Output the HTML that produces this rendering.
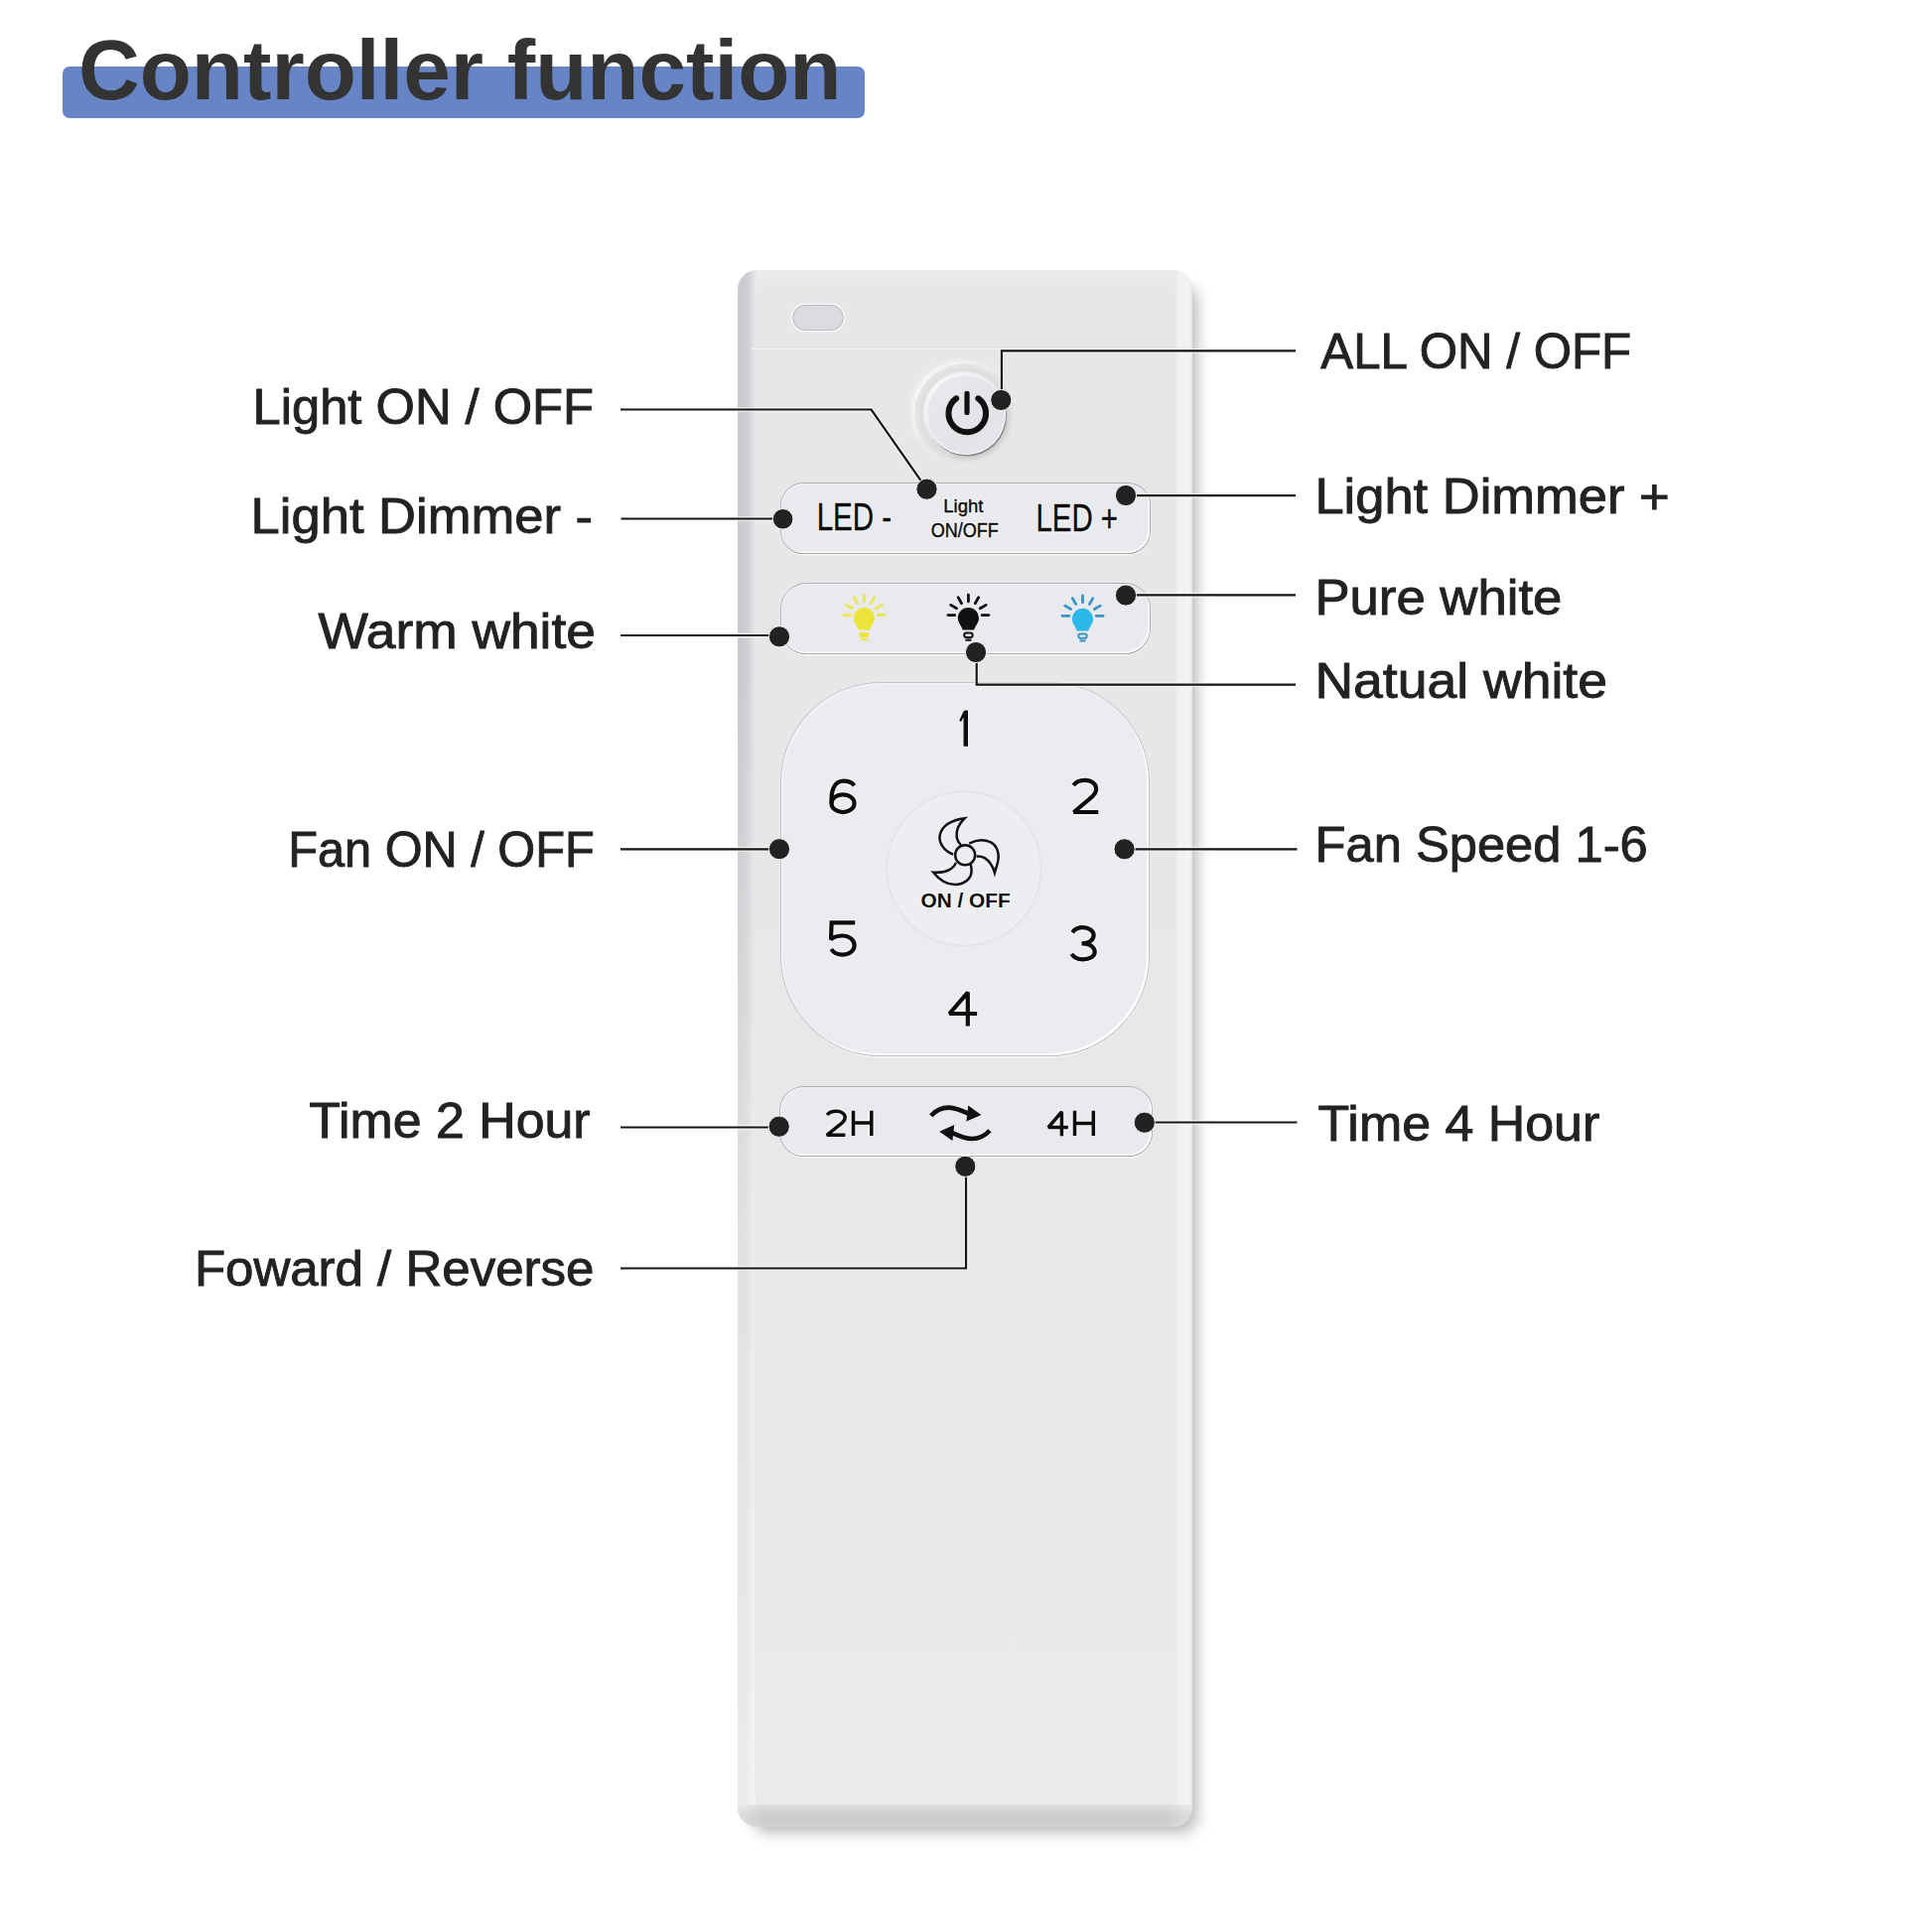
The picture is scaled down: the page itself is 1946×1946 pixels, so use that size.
<!DOCTYPE html>
<html><head><meta charset="utf-8">
<style>
html,body{margin:0;padding:0;background:#fff;}
body{width:1946px;height:1946px;position:relative;overflow:hidden;font-family:"Liberation Sans",sans-serif;}
.abs{position:absolute;}
#body{left:743px;top:272px;width:458px;height:1568px;border-radius:20px;background:#e9e8eb;overflow:hidden;box-shadow:10px 11px 16px -6px rgba(0,0,0,0.3);}
#lstrip{left:0;top:0;width:18px;height:100%;background:linear-gradient(180deg,rgba(255,255,255,0) 0%,rgba(255,255,255,0) 25%,rgba(255,255,255,0.4) 60%,rgba(255,255,255,0.62) 100%),linear-gradient(90deg,#c9c8cc 0,#cdccd0 45%,#d6d5d9 70%,#e0dfe2 88%,#e7e6e9 100%);}
#rstrip{right:0;top:0;width:17px;height:100%;background:linear-gradient(90deg,#e9e9eb 0,#f1f1f2 20%,#f3f3f4 85%,#e2e2e4 100%);}
#bstrip{left:0;bottom:0;width:100%;height:22px;background:linear-gradient(90deg,rgba(255,255,255,0.35) 0,rgba(255,255,255,0) 6%,rgba(255,255,255,0) 94%,rgba(255,255,255,0.35) 100%),linear-gradient(180deg,#e0dddf 0,#d2cfd0 35%,#cdcacb 75%,#d5d2d3 100%);}
#tstrip{left:0;top:0;width:100%;height:15px;background:linear-gradient(180deg,#ececee,#e8e8ea);}
#face{left:17px;top:15px;right:17px;bottom:22px;border-radius:12px;background:linear-gradient(180deg,#e7e6e9 0%,#e7e7ea 40%,#eaeaec 100%);}
#seam{left:14px;top:77px;width:428px;height:3px;background:linear-gradient(180deg,#dddce0,#f4f4f5);}
#led{left:55px;top:35px;width:52px;height:26px;border-radius:13px;background:#dcdce0;border:1.5px solid #bdbdc0;box-sizing:border-box;box-shadow:0 0 0 1.5px #f7f7f8;}
.bar{position:absolute;background:#e9eaed;box-sizing:border-box;box-shadow:inset -1.5px -1.5px 0 rgba(255,255,255,0.85), inset 1px 1px 0 rgba(255,255,255,0.4), 0 0 0 0.9px #adadaf, 0.3px 1.1px 0 #8d8d8f, 0.5px 2.4px 0.6px #f8f8f9, -1px -1px 1px rgba(255,255,255,0.6);}
#pad{left:787px;top:688px;width:370px;height:375px;border-radius:100px;background:#ebecef;box-sizing:border-box;box-shadow:inset -2px -2px 0 rgba(255,255,255,0.9), inset 1.5px 1.5px 0 rgba(255,255,255,0.45), 0 0 0 1px #c3c3c5, 0.3px 1px 0 #a3a3a5, 0.5px 2.4px 0.6px #f6f6f7;}
#center{left:894px;top:798px;width:154px;height:154px;border-radius:50%;background:#edeef1;box-shadow:0 0 0 1px rgba(0,0,0,0.035), 0 0 4px rgba(0,0,0,0.04);}
#pwrhalo{left:921px;top:366px;width:102px;height:102px;border-radius:50%;background:radial-gradient(circle at 50% 50%,rgba(0,0,0,0) 38px,rgba(0,0,0,0.0) 40px,rgba(0,0,0,0.045) 44px,rgba(0,0,0,0) 51px);box-shadow:-4px -3px 6px -2px rgba(255,255,255,0.9);}
#pwr{left:933px;top:377px;width:80px;height:81px;border-radius:50%;background:linear-gradient(135deg,#e9eaee,#e3e4e8 60%,#e6e6ea);box-sizing:border-box;border:1.2px solid #f6f6f7;box-shadow:1px 1.5px 0 #8a8a8d, 2px 3px 5px rgba(0,0,0,0.12), -2px -2px 3px rgba(255,255,255,0.8);}
svg{position:absolute;left:0;top:0;}
</style></head>
<body>
<div class="abs" style="left:63px;top:67px;width:808px;height:51.5px;border-radius:7px;background:#6785c5;"></div>

<div id="body" class="abs">
  <div id="tstrip" class="abs"></div>
  <div id="lstrip" class="abs"></div>
  <div id="rstrip" class="abs"></div>
  <div id="bstrip" class="abs"></div>
  <div id="face" class="abs"></div>
  <div id="seam" class="abs"></div>
  <div id="led" class="abs"></div>
</div>
<div id="pwrhalo" class="abs"></div>
<div id="pwr" class="abs"></div>
<div class="bar" style="left:787px;top:487px;width:371px;height:70px;border-radius:22px;"></div>
<div class="bar" style="left:786.5px;top:587.5px;width:371.5px;height:70px;border-radius:25px;"></div>
<div id="pad" class="abs"></div>
<div id="center" class="abs"></div>
<div class="bar" style="left:785.5px;top:1094.5px;width:374px;height:69.5px;border-radius:23px;"></div>

<svg width="1946" height="1946" viewBox="0 0 1946 1946">
<!-- title -->
<text x="79" y="100" font-family="Liberation Sans" font-weight="bold" font-size="86" fill="#333333" textLength="768.5" lengthAdjust="spacingAndGlyphs">Controller function</text>

<!-- labels -->
<g font-family="Liberation Sans" font-size="50" fill="#222222" stroke="#222222" stroke-width="0.9">
<text x="598" y="427" text-anchor="end" textLength="343.4" lengthAdjust="spacingAndGlyphs">Light ON / OFF</text>
<text x="597" y="536.7" text-anchor="end" textLength="344.4" lengthAdjust="spacingAndGlyphs">Light Dimmer -</text>
<text x="599.9" y="653" text-anchor="end" textLength="279.4" lengthAdjust="spacingAndGlyphs">Warm white</text>
<text x="598.7" y="873.3" text-anchor="end" textLength="308.4" lengthAdjust="spacingAndGlyphs">Fan ON / OFF</text>
<text x="594.6" y="1146" text-anchor="end" textLength="283.3" lengthAdjust="spacingAndGlyphs">Time 2 Hour</text>
<text x="598.4" y="1294.8" text-anchor="end" textLength="402.5" lengthAdjust="spacingAndGlyphs">Foward / Reverse</text>
<text x="1330.3" y="370.9" textLength="312.9" lengthAdjust="spacingAndGlyphs">ALL ON / OFF</text>
<text x="1324.4" y="517.4" textLength="357.2" lengthAdjust="spacingAndGlyphs">Light Dimmer +</text>
<text x="1324.4" y="619.2" textLength="249" lengthAdjust="spacingAndGlyphs">Pure white</text>
<text x="1324.4" y="703" textLength="294.6" lengthAdjust="spacingAndGlyphs">Natual white</text>
<text x="1324.6" y="868.3" textLength="335.2" lengthAdjust="spacingAndGlyphs">Fan Speed 1-6</text>
<text x="1327.6" y="1149.4" textLength="283.6" lengthAdjust="spacingAndGlyphs">Time 4 Hour</text>
</g>

<!-- power icon -->
<g fill="none" stroke="#111" stroke-linecap="round">
<path d="M963.2,401.3 A18.8 18.8 0 1 0 985.3,401.3" stroke-width="6"/>
<path d="M974,396.3 V415.5" stroke-width="5.2"/>
</g>

<!-- remote text -->
<defs>
<g id="rtext" font-family="Liberation Sans">
<text x="822.7" y="533.7" font-size="38" textLength="75.5" lengthAdjust="spacingAndGlyphs">LED -</text>
<text x="1043.5" y="535.3" font-size="38" textLength="82.5" lengthAdjust="spacingAndGlyphs">LED +</text>
<text x="970.3" y="516" font-size="19" text-anchor="middle" textLength="40" lengthAdjust="spacingAndGlyphs">Light</text>
<text x="971.7" y="540.5" font-size="19.5" text-anchor="middle" textLength="68" lengthAdjust="spacingAndGlyphs">ON/OFF</text>
</g>
</defs>
<g fill="#fff" stroke="#fff" stroke-width="3.2" stroke-linejoin="round" opacity="0.6"><use href="#rtext"/></g>
<g fill="#0d0d0d" stroke="#0d0d0d" stroke-width="0.45"><use href="#rtext"/></g>
<text x="972.6" y="914" font-family="Liberation Sans" font-size="21" font-weight="bold" text-anchor="middle" textLength="90" lengthAdjust="spacingAndGlyphs" fill="#0d0d0d" stroke="#fff" stroke-width="2.4" stroke-opacity="0.6" paint-order="stroke">ON / OFF</text>

<!-- digits -->
<g id="digits" fill="none" stroke-linejoin="miter" stroke-miterlimit="2.2" stroke-linecap="butt">
<path d="M860.5,791.2 C858,787.8 854,786.7 849.5,786.7 C841.5,786.7 837.5,794.5 837.5,805 L837.6,809.5"/>
<ellipse cx="849" cy="809.2" rx="11.5" ry="8.85"/>
<path d="M1081.2,791 C1083.5,787.6 1088,785.8 1092.8,785.8 C1099.5,785.8 1104.2,789.8 1104.2,794.8 C1104.2,798.6 1102,801 1098.5,803.8 L1081.6,818 L1106.3,818"/>
<path d="M861.2,929.3 L837.6,929.3 L837,946.2 C840,943.7 844,942.5 848.6,942.5 C855.5,942.5 860.6,947 860.6,952.3 C860.6,957.5 855.5,961.6 848.6,961.6 C843.5,961.6 839.5,959.5 837.3,956"/>
<path d="M1080.2,939.2 C1082.5,936 1086.5,934.2 1090.8,934.2 C1097,934.2 1101.6,937.8 1101.6,942 C1101.6,946.5 1097.5,950.3 1089.5,950.3 L1090.8,950.3 C1098,950.3 1102.7,954.3 1102.7,958.8 C1102.7,963.5 1097.5,966.3 1090.8,966.3 C1085.5,966.3 1081.5,964.3 1079.4,960.9"/>
<path d="M974.8,1033.4 V999.6 L956.4,1021 H984.1"/>
</g>
<g id="hh" fill="none" stroke-linejoin="miter" stroke-miterlimit="2.2">
<path d="M833.1,1123 C835,1120.5 838.5,1119.3 842.4,1119.3 C847.5,1119.3 851.2,1122 851.2,1125.4 C851.2,1128 849.5,1130 846.5,1132.3 L832.8,1143.3 H851.4"/>
<path d="M859.5,1118.7 V1144 M877.8,1118.7 V1144 M859.5,1131.1 H877.8"/>
<path d="M1069.4,1144.2 V1119.8 L1056,1135.5 H1075.8"/>
<path d="M1082.5,1118.7 V1144 M1101.3,1118.7 V1144 M1082.5,1131.4 H1101.3"/>
</g>
<g stroke="#fff" stroke-width="6" opacity="0.55"><use href="#hh"/></g>
<g stroke="#0d0d0d" stroke-width="3.5"><use href="#hh"/></g>
<g stroke="#fff" stroke-width="7" opacity="0.55"><use href="#digits"/></g>
<g stroke="#0d0d0d" stroke-width="4.2"><use href="#digits"/></g>
<path d="M966.2,725.8 L970.3,716.8 Q971,715.5 972.5,715.5 L975,715.5 L975,751.7 L970.5,751.7 L970.5,722.5 L968,727 Z" fill="#0d0d0d" stroke="#fff" stroke-width="1.2" paint-order="stroke"/>

<!-- fan icon -->
<g transform="translate(925,810) scale(0.05952)" fill="none" stroke="#111" stroke-width="42" stroke-linejoin="miter" stroke-miterlimit="10">
<circle cx="792" cy="862" r="168"/>
<path d="M590,850 C430,790 340,650 365,520 C395,370 560,265 785,238 C690,330 630,430 650,560 C660,620 690,660 720,690"/>
<path d="M860,665 C960,610 1100,590 1220,640 C1340,700 1380,850 1340,1000 C1325,1060 1305,1110 1292,1160 C1260,1050 1200,960 1120,910 C1080,890 1030,880 985,885"/>
<path d="M635,990 C600,1090 480,1170 255,1155 C330,1250 460,1360 620,1360 C780,1360 900,1260 900,1130 C900,1080 895,1050 885,1020"/>
</g>

<!-- arrows icon -->
<g id="arr" fill="#111" stroke="none">
<path d="M937.7,1123.8 C944,1117 950,1115.5 956,1115.6 C962,1115.8 968,1118.2 976,1121.8" fill="none" stroke="#111" stroke-width="4.6"/>
<path d="M975.2,1113.6 L988.4,1122.9 L973.4,1129.5 Z"/>
</g>
<use href="#arr" transform="rotate(180 967.3 1131.3)"/>

<!-- bulbs -->
<defs>
<g id="bulbhead">
<path d="M-10.6,0 A10.6 10.6 0 1 1 10.6,0 C10.6,5 6.5,8 5.8,12 L-5.8,12 C-6.5,8 -10.6,5 -10.6,0 Z"/>
</g>
</defs>
<g transform="translate(870.4,622.6)" fill="#ece43a" stroke="#ece43a">
<use href="#bulbhead" stroke="none"/>
<rect x="-5" y="14.5" width="10" height="5" rx="2" stroke="none"/>
<path d="M-3,21.5 H3" stroke-width="2.4" fill="none"/>
<g stroke-width="3" stroke-linecap="round" fill="none" opacity="0.8">
<path d="M-13.7,-3 H-20.5 M13.7,-3 H20.5 M0,-16.7 V-23.5 M-6.85,-14.9 L-10.25,-20.8 M6.85,-14.9 L10.25,-20.8 M-11.9,-9.85 L-17.75,-13.25 M11.9,-9.85 L17.75,-13.25"/>
</g>
</g>
<g transform="translate(975.4,622.6)" fill="#111" stroke="#111">
<use href="#bulbhead" stroke="none"/>
<rect x="-4.2" y="15" width="8.4" height="4.4" rx="2" stroke-width="2" fill="none"/>
<path d="M-3,22 H3" stroke-width="2.2" fill="none"/>
<g stroke-width="2.8" stroke-linecap="round" fill="none">
<path d="M-13.7,-3 H-20.5 M13.7,-3 H20.5 M0,-16.7 V-23.5 M-6.85,-14.9 L-10.25,-20.8 M6.85,-14.9 L10.25,-20.8 M-11.9,-9.85 L-17.75,-13.25 M11.9,-9.85 L17.75,-13.25"/>
</g>
</g>
<g transform="translate(1090.5,623.4)" fill="#2db8ea" stroke="#3a95c6">
<use href="#bulbhead" stroke="none"/>
<rect x="-4.2" y="15" width="8.4" height="4.4" rx="2" stroke-width="2" fill="none"/>
<path d="M-3,22 H3" stroke-width="2.2" fill="none"/>
<g stroke-width="2.8" stroke-linecap="round" fill="none">
<path d="M-13.7,-3 H-20.5 M13.7,-3 H20.5 M0,-16.7 V-23.5 M-6.85,-14.9 L-10.25,-20.8 M6.85,-14.9 L10.25,-20.8 M-11.9,-9.85 L-17.75,-13.25 M11.9,-9.85 L17.75,-13.25"/>
</g>
</g>

<!-- leader lines -->
<defs><g id="leaders">
<path d="M625,412.5 H877.6 L933.5,492.7"/>
<path d="M625.5,522.5 H788"/>
<path d="M625,640 H785"/>
<path d="M625,855.4 H785"/>
<path d="M625,1135.5 H784.7"/>
<path d="M625,1277.5 H973 V1174.8"/>
<path d="M1305,353.4 H1008.9 V403"/>
<path d="M1305,499.2 H1134"/>
<path d="M1305,599.4 H1134"/>
<path d="M1305,689.7 H983.7 V657"/>
<path d="M1306.5,855.3 H1132.6"/>
<path d="M1306.5,1130.5 H1152.8"/>
</g></defs>
<g fill="none" stroke="#fff" stroke-width="4.6" opacity="0.75"><use href="#leaders"/></g>
<g fill="none" stroke="#151515" stroke-width="2.2"><use href="#leaders"/></g>
<g fill="#222" stroke="#f4f4f5" stroke-width="1">
<circle cx="933.5" cy="492.7" r="10.6"/>
<circle cx="788.6" cy="522.8" r="10.3"/>
<circle cx="785" cy="641.3" r="10.6"/>
<circle cx="785" cy="855.2" r="10.6"/>
<circle cx="784.7" cy="1134.7" r="10.6"/>
<circle cx="972.3" cy="1174.8" r="10.6"/>
<circle cx="1008.3" cy="403" r="10.6"/>
<circle cx="1134" cy="499" r="10.6"/>
<circle cx="1134" cy="599.6" r="10.6"/>
<circle cx="983" cy="657" r="10.6"/>
<circle cx="1132.6" cy="855.3" r="10.6"/>
<circle cx="1152.8" cy="1130.7" r="10.6"/>
</g>
</svg>
</body></html>
